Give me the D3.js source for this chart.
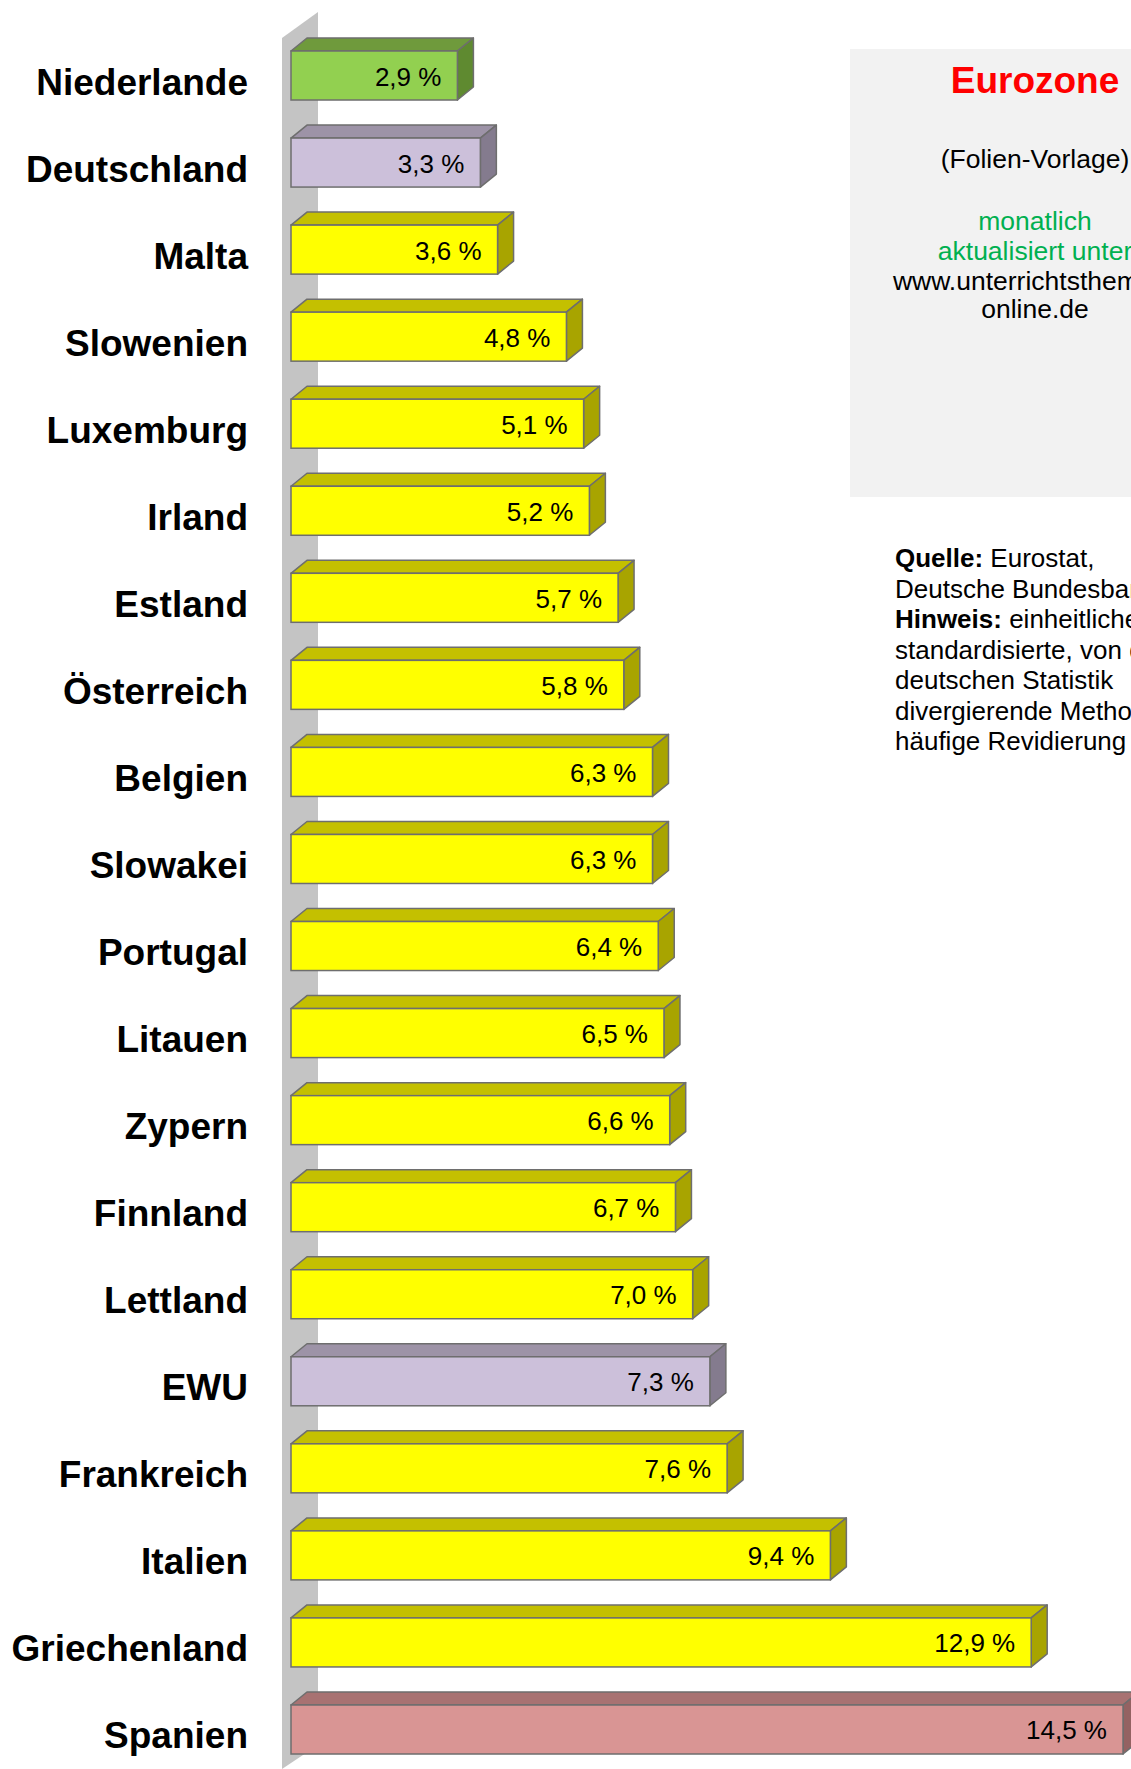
<!DOCTYPE html>
<html>
<head>
<meta charset="utf-8">
<script src="https://cdn.jsdelivr.net/npm/d3@7"></script>
<style>
  body { margin: 0; background: #fff; }
  svg { display: block; font-family: 'Liberation Sans', Arial, sans-serif; }
</style>
</head>
<body>
<div id="chart"></div>
<script>
// data (Arbeitslosenquote, Eurozone)
var countries = ['Niederlande', 'Deutschland', 'Malta', 'Slowenien', 'Luxemburg', 'Irland',
  'Estland', 'Österreich', 'Belgien', 'Slowakei', 'Portugal', 'Litauen', 'Zypern',
  'Finnland', 'Lettland', 'EWU', 'Frankreich', 'Italien', 'Griechenland', 'Spanien']
var values = [2.9, 3.3, 3.6, 4.8, 5.1, 5.2, 5.7, 5.8, 6.3, 6.3, 6.4, 6.5, 6.6, 6.7, 7.0, 7.3, 7.6, 9.4, 12.9, 14.5]
var kinds = ['best', 'de', 'eu', 'eu', 'eu', 'eu', 'eu', 'eu', 'eu', 'eu', 'eu', 'eu', 'eu',
  'eu', 'eu', 'de', 'eu', 'eu', 'eu', 'worst']

var infoLines = [
  { text: 'Eurozone', color: '#ff0000', bold: true },
  { text: '(Folien-Vorlage)', color: '#000' },
  { text: 'monatlich', color: '#00b050' },
  { text: 'aktualisiert unter', color: '#00b050' },
  { text: 'www.unterrichtsthemen-', color: '#000' },
  { text: 'online.de', color: '#000' }
]
var sourceLines = [
  [['Quelle:', true], [' Eurostat,', false]],
  [['Deutsche Bundesbank', false]],
  [['Hinweis:', true], [' einheitliche,', false]],
  [['standardisierte, von der', false]],
  [['deutschen Statistik', false]],
  [['divergierende Methode,', false]],
  [['häufige Revidierung', false]]
]

var palette = {
  best:  { front: '#92d050', top: '#6f9a3c', side: '#5f8a30' },
  de:    { front: '#ccc0da', top: '#9d93a7', side: '#847b8e' },
  eu:    { front: '#ffff00', top: '#c4c000', side: '#a8a400' },
  worst: { front: '#d99594', top: '#a87272', side: '#946262' }
}

var width = 1131
var height = 1769
var depth = { dx: 16, dy: 13 }

var svg = d3.select('#chart').append('svg')
  .attr('width', width)
  .attr('height', height)

var x = d3.scaleLinear()
  .domain([0, 14.5])
  .range([291, 1123])

var y = d3.scaleBand()
  .domain(countries)
  .range([51, 1754])
  .paddingInner(0.437)
  .paddingOuter(0)

var data = countries.map(function (c, i) {
  return { name: c, value: values[i], kind: kinds[i] }
})

// grey side wall
svg.append('polygon')
  .attr('points', [[282, 38], [318, 12], [318, 1745], [282, 1769]].join(' '))
  .attr('fill', '#c4c4c4')

// info box
svg.append('rect')
  .attr('x', 850).attr('y', 49)
  .attr('width', 300).attr('height', 448)
  .attr('fill', '#f2f2f2')

var infoY = [93, 168, 230, 260, 290, 318]
svg.append('g').selectAll('text')
    .data(infoLines)
  .enter().append('text')
    .attr('x', 1035)
    .attr('y', function (d, i) { return infoY[i] })
    .attr('text-anchor', 'middle')
    .attr('fill', function (d) { return d.color })
    .attr('font-weight', function (d) { return d.bold ? 'bold' : 'normal' })
    .attr('font-size', function (d) { return d.bold ? 37 : 26.5 })
    .text(function (d) { return d.text })

svg.append('g').selectAll('text')
    .data(sourceLines)
  .enter().append('text')
    .attr('x', 895)
    .attr('y', function (d, i) { return 567 + i * 30.5 })
    .attr('font-size', 26)
    .attr('fill', '#000')
    .each(function (d) {
      var t = d3.select(this)
      d.forEach(function (p) {
        t.append('tspan')
          .attr('font-weight', p[1] ? 'bold' : 'normal')
          .text(p[0])
      })
    })

// bars
var bar = svg.append('g').selectAll('g')
    .data(data)
  .enter().append('g')
    .attr('class', 'bar')

var x0 = x(0)
bar.append('polygon')
  .attr('points', function (d) {
    var t = y(d.name), r = x(d.value)
    return [[x0, t], [x0 + depth.dx, t - depth.dy], [r + depth.dx, t - depth.dy], [r, t]].join(' ')
  })
  .attr('fill', function (d) { return palette[d.kind].top })
  .attr('stroke', '#6e6e6e').attr('stroke-width', 1.5).attr('stroke-linejoin', 'round')

bar.append('polygon')
  .attr('points', function (d) {
    var t = y(d.name), b = t + y.bandwidth(), r = x(d.value)
    return [[r, t], [r + depth.dx, t - depth.dy], [r + depth.dx, b - depth.dy], [r, b]].join(' ')
  })
  .attr('fill', function (d) { return palette[d.kind].side })
  .attr('stroke', '#6e6e6e').attr('stroke-width', 1.5).attr('stroke-linejoin', 'round')

bar.append('rect')
  .attr('x', x0)
  .attr('y', function (d) { return y(d.name) })
  .attr('width', function (d) { return x(d.value) - x0 })
  .attr('height', y.bandwidth())
  .attr('fill', function (d) { return palette[d.kind].front })
  .attr('stroke', '#6e6e6e').attr('stroke-width', 1.5)

var fmt = d3.format('.1f')
bar.append('text')
  .attr('x', function (d) { return x(d.value) - 16 })
  .attr('y', function (d) { return y(d.name) + y.bandwidth() / 2 + 10 })
  .attr('text-anchor', 'end')
  .attr('font-size', 26)
  .attr('fill', '#000')
  .text(function (d) { return fmt(d.value).replace('.', ',') + ' %' })

// country labels
svg.append('g').selectAll('text')
    .data(data)
  .enter().append('text')
    .attr('x', 248)
    .attr('y', function (d) { return y(d.name) + y.bandwidth() / 2 + 19 })
    .attr('text-anchor', 'end')
    .attr('font-size', 37)
    .attr('font-weight', 'bold')
    .attr('fill', '#000')
    .text(function (d) { return d.name })
</script>
</body>
</html>
